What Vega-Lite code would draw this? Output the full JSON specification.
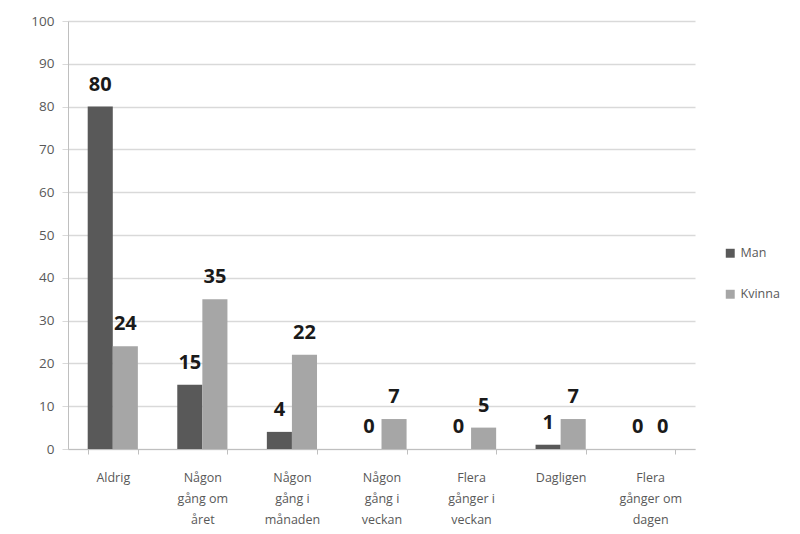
{
  "$schema": "https://vega.github.io/schema/vega-lite/v6.json",
  "width": 627,
  "height": 428,
  "autosize": "none",
  "padding": {"left": 68, "top": 21, "right": 105, "bottom": 85},
  "background": "white",
  "config": {"view": {"stroke": null}, "font": "Open Sans",
    "axis": {"labelColor": "#595959", "labelFlush": false, "labelOverlap": false}},
  "data": {"values": [
    {"cat": "Aldrig", "kon": "Man", "v": 80},
    {"cat": "Aldrig", "kon": "Kvinna", "v": 24},
    {"cat": "Någon|gång om|året", "kon": "Man", "v": 15},
    {"cat": "Någon|gång om|året", "kon": "Kvinna", "v": 35},
    {"cat": "Någon|gång i|månaden", "kon": "Man", "v": 4},
    {"cat": "Någon|gång i|månaden", "kon": "Kvinna", "v": 22},
    {"cat": "Någon|gång i|veckan", "kon": "Man", "v": 0},
    {"cat": "Någon|gång i|veckan", "kon": "Kvinna", "v": 7},
    {"cat": "Flera|gånger i|veckan", "kon": "Man", "v": 0},
    {"cat": "Flera|gånger i|veckan", "kon": "Kvinna", "v": 5},
    {"cat": "Dagligen", "kon": "Man", "v": 1},
    {"cat": "Dagligen", "kon": "Kvinna", "v": 7},
    {"cat": "Flera|gånger om|dagen", "kon": "Man", "v": 0},
    {"cat": "Flera|gånger om|dagen", "kon": "Kvinna", "v": 0}
  ]},
  "encoding": {
    "x": {"field": "cat", "type": "nominal", "sort": null,
      "scale": {"paddingInner": 0.44, "paddingOuter": 0.22},
      "axis": {"title": null, "labelAngle": 0, "labelExpr": "split(datum.label, '|')",
        "labelFontSize": 12.5, "labelLineHeight": 21, "labelPadding": 17, "labelBaseline": "top",
        "domainColor": "#bfbfbf", "tickColor": "#bfbfbf", "tickBand": "extent", "tickSize": 5, "grid": false}},
    "xOffset": {"field": "kon", "type": "nominal", "sort": ["Man", "Kvinna"]},
    "y": {"field": "v", "type": "quantitative",
      "scale": {"domain": [0, 100], "nice": false},
      "axis": {"title": null, "values": [0,10,20,30,40,50,60,70,80,90,100],
        "labelFontSize": 13.5, "labelPadding": 8,
        "gridColor": "#d9d9d9", "gridWidth": 1.5, "domainColor": "#bfbfbf", "tickColor": "#d9d9d9", "tickSize": 6}}
  },
  "layer": [
    {"mark": {"type": "bar"},
      "encoding": {"color": {"field": "kon", "type": "nominal", "sort": ["Man", "Kvinna"],
        "scale": {"domain": ["Man", "Kvinna"], "range": ["#595959", "#a6a6a6"]},
        "legend": {"title": null, "orient": "none", "legendX": 656, "legendY": 226,
          "symbolType": "square", "symbolSize": 80, "rowPadding": 28, "labelFontSize": 12.5, "labelColor": "#595959", "symbolStrokeWidth": 0}}}},
    {"mark": {"type": "text", "baseline": "bottom", "dy": -12, "fontSize": 20, "fontWeight": "bold", "color": "#1a1a1a"},
      "encoding": {"text": {"field": "v", "type": "quantitative"}}}
  ]
}
